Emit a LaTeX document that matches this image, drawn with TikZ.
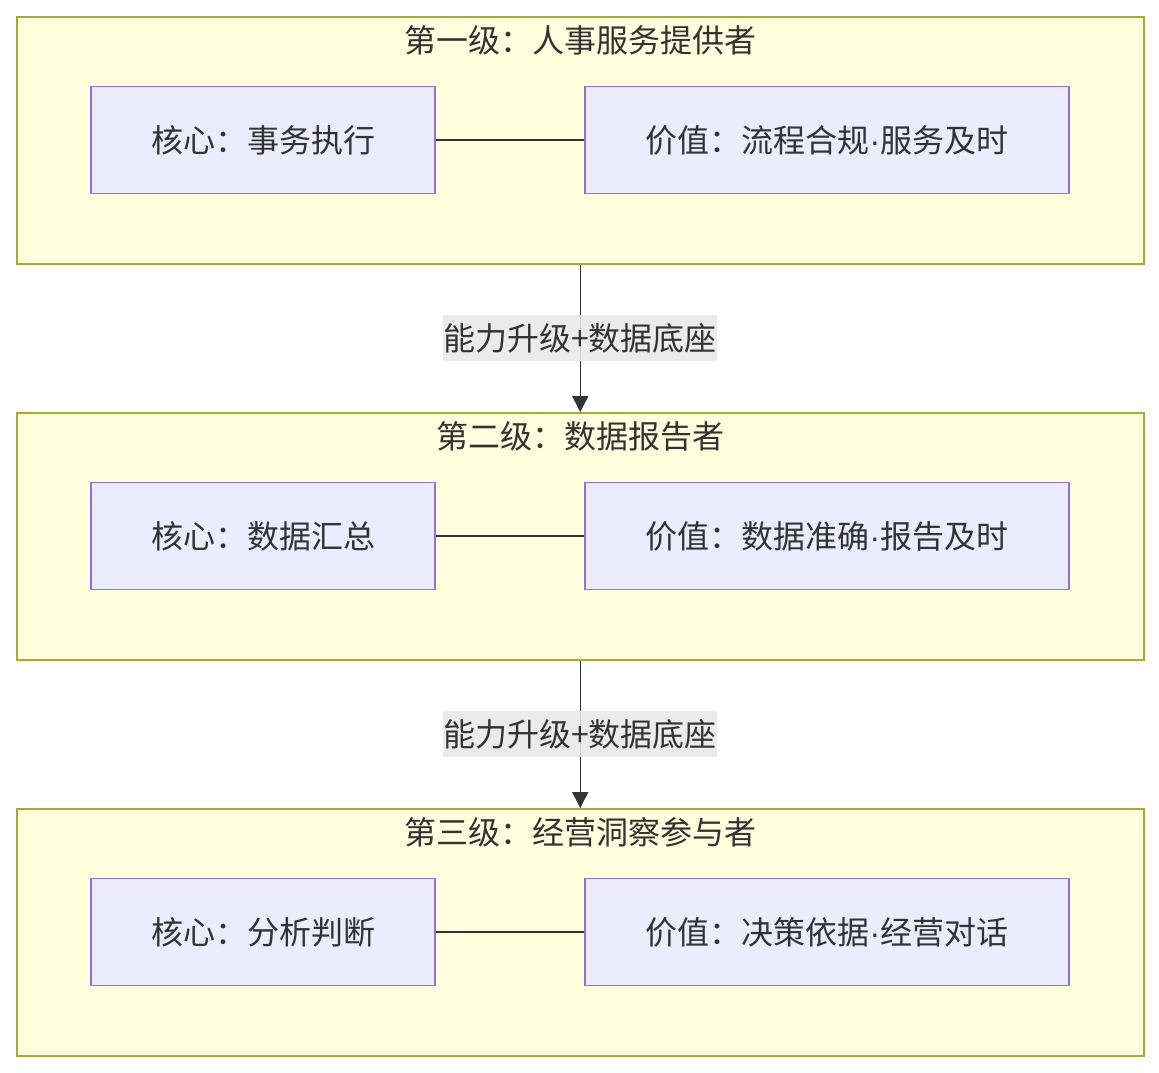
\documentclass[tikz,border=0pt]{standalone}
\usepackage{fontspec}
\setmainfont{Noto Sans CJK SC}
\newfontfamily\latinfont{Liberation Sans}
\usetikzlibrary{arrows.meta, positioning, calc}
\definecolor{grpfill}{HTML}{FFFFDE}
\definecolor{grpline}{HTML}{AAAA33}
\definecolor{boxfill}{HTML}{ECECFF}
\definecolor{boxline}{HTML}{9370DB}
\definecolor{ink}{HTML}{333333}
\definecolor{lblfill}{HTML}{E8E8E8}
\newcommand\mdot{{\latinfont ·}}

\tikzset{
  grpbox/.style={draw=grpline, fill=grpfill, line width=1.5pt, minimum width=1127pt, minimum height=247pt, inner sep=0pt},
  grptitle/.style={text=ink, font=\fontsize{32}{38}\selectfont, inner sep=0pt},
  itembox/.style={draw=boxline, fill=boxfill, line width=1.5pt, minimum height=107pt, inner sep=0pt, text=ink, font=\fontsize{32}{38}\selectfont},
  link/.style={draw=ink, line width=1.5pt},
  uplabel/.style={fill=lblfill, fill opacity=0.85, text opacity=1, text=ink, font=\fontsize{32}{38}\selectfont, inner sep=0pt, minimum height=46pt, minimum width=272pt}
}

\begin{document}
\begin{tikzpicture}[x=1pt, y=-1pt]
  \useasboundingbox (0,0) rectangle (1159,1072);

  % three levels
  \foreach \i/\yy/\title/\core/\val in {
    1/16/第一级：人事服务提供者/核心：事务执行/价值：流程合规\mdot 服务及时,
    2/412/第二级：数据报告者/核心：数据汇总/价值：数据准确\mdot 报告及时,
    3/808/第三级：经营洞察参与者/核心：分析判断/价值：决策依据\mdot 经营对话} {
    \node[grpbox, anchor=north west] (grp\i) at (16,\yy) {};
    \node[grptitle] (title\i) at (580,\yy+24) {\title};
    \node[itembox, minimum width=344pt] (core\i) at (263,\yy+124) {\core};
    \node[itembox, minimum width=484pt] (value\i) at (827,\yy+124) {\val};
    \draw[link] (core\i.east) -- (value\i.west);
  }

  % upgrades between levels
  \draw[link, -{Triangle[length=16pt, width=16pt]}] (grp1.south) -- (grp2.north);
  \node[uplabel] (up1) at (580,338) {能力升级+数据底座};
  \draw[link, -{Triangle[length=16pt, width=16pt]}] (grp2.south) -- (grp3.north);
  \node[uplabel] (up2) at (580,734) {能力升级+数据底座};
\end{tikzpicture}
\end{document}
